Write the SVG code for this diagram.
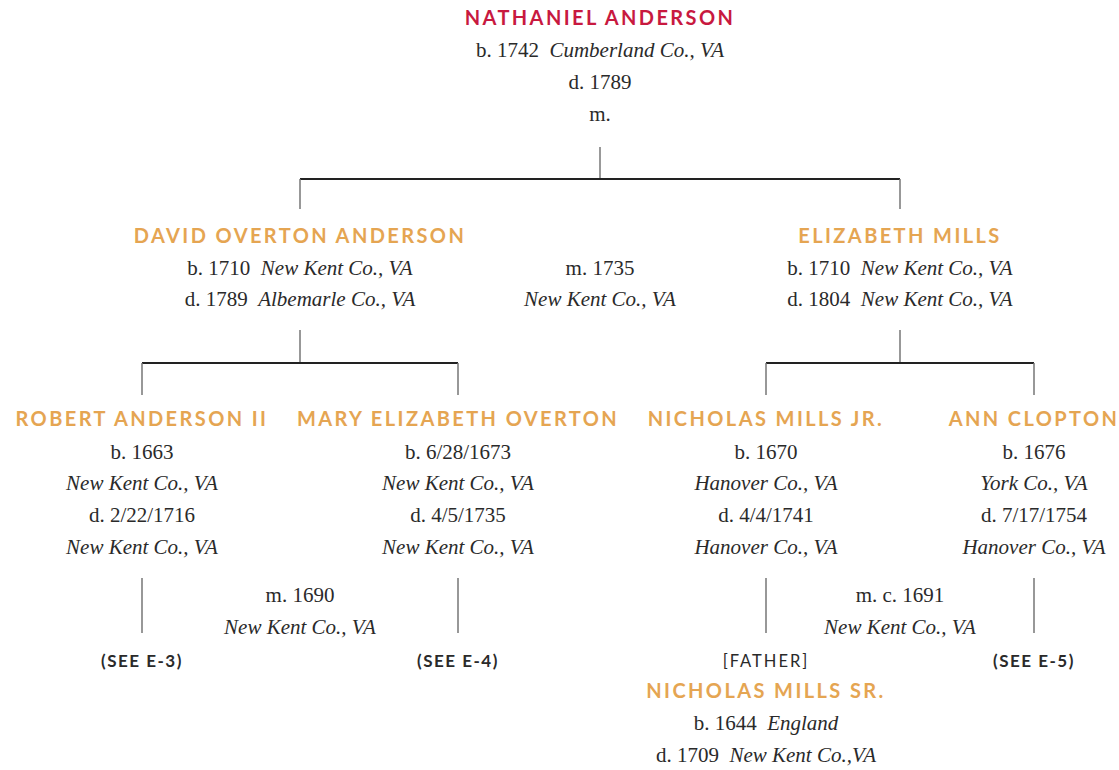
<svg xmlns="http://www.w3.org/2000/svg" width="1119" height="770" viewBox="0 0 1119 770" xml:space="preserve">
<style>
text{white-space:pre}
.nm{font-family:Lato,"Open Sans",sans-serif;font-weight:700;font-size:20px;letter-spacing:2.4px;text-anchor:middle;fill:#E5A552}
.red{fill:#C8193F}
.t{font-family:"Liberation Serif","DejaVu Serif",serif;font-size:21px;fill:#2a2a2a;text-anchor:middle}
.i{font-style:italic}
.see{font-family:Lato,"Open Sans",sans-serif;font-weight:700;font-size:17px;letter-spacing:1.5px;text-anchor:middle;fill:#2a2a2a}
.fa{font-family:Lato,"Open Sans",sans-serif;font-weight:400;font-size:16.5px;letter-spacing:2px;text-anchor:middle;fill:#2a2a2a}
.h{stroke:#222;stroke-width:2;fill:none}
.v{stroke:#777;stroke-width:1.5;fill:none}
</style>
<rect width="1119" height="770" fill="#fff"/>
<g id="connectors"><path class="v" d="M600 147V179"/><path class="h" d="M300 179H900"/><path class="v" d="M300 179V209M900 179V209"/><path class="v" d="M300 330V363M900 330V363"/><path class="h" d="M142 363H458M766 363H1034"/><path class="v" d="M142 363V395M458 363V395M766 363V395M1034 363V395"/><path class="v" d="M142 578V633M458 578V633M766 578V633M1034 578V633"/></g>
<g id="nathaniel"><text class="nm red" x="600" y="25">NATHANIEL ANDERSON</text><text class="t" x="600" y="57">b. 1742  <tspan class="i">Cumberland Co., VA</tspan></text><text class="t" x="600" y="89">d. 1789</text><text class="t" x="600" y="121">m.</text></g>
<g id="david"><text class="nm" x="300" y="243">DAVID OVERTON ANDERSON</text><text class="t" x="300" y="275">b. 1710  <tspan class="i">New Kent Co., VA</tspan></text><text class="t" x="300" y="306">d. 1789  <tspan class="i">Albemarle Co., VA</tspan></text></g>
<g id="m1735"><text class="t" x="600" y="275">m. 1735</text><text class="t i" x="600" y="306">New Kent Co., VA</text></g>
<g id="elizabeth"><text class="nm" x="900" y="243">ELIZABETH MILLS</text><text class="t" x="900" y="275">b. 1710  <tspan class="i">New Kent Co., VA</tspan></text><text class="t" x="900" y="306">d. 1804  <tspan class="i">New Kent Co., VA</tspan></text></g>
<g id="robert"><text class="nm" x="142" y="426">ROBERT ANDERSON II</text><text class="t" x="142" y="459">b. 1663</text><text class="t i" x="142" y="490">New Kent Co., VA</text><text class="t" x="142" y="522">d. 2/22/1716</text><text class="t i" x="142" y="554">New Kent Co., VA</text><text class="see" x="142" y="667">(SEE E-3)</text></g>
<g id="mary"><text class="nm" x="458" y="426">MARY ELIZABETH OVERTON</text><text class="t" x="458" y="459">b. 6/28/1673</text><text class="t i" x="458" y="490">New Kent Co., VA</text><text class="t" x="458" y="522">d. 4/5/1735</text><text class="t i" x="458" y="554">New Kent Co., VA</text><text class="see" x="458" y="667">(SEE E-4)</text></g>
<g id="m1690"><text class="t" x="300" y="602">m. 1690</text><text class="t i" x="300" y="634">New Kent Co., VA</text></g>
<g id="nicholasjr"><text class="nm" x="766" y="426">NICHOLAS MILLS JR.</text><text class="t" x="766" y="459">b. 1670</text><text class="t i" x="766" y="490">Hanover Co., VA</text><text class="t" x="766" y="522">d. 4/4/1741</text><text class="t i" x="766" y="554">Hanover Co., VA</text></g>
<g id="ann"><text class="nm" x="1034" y="426">ANN CLOPTON</text><text class="t" x="1034" y="459">b. 1676</text><text class="t i" x="1034" y="490">York Co., VA</text><text class="t" x="1034" y="522">d. 7/17/1754</text><text class="t i" x="1034" y="554">Hanover Co., VA</text><text class="see" x="1034" y="667">(SEE E-5)</text></g>
<g id="m1691"><text class="t" x="900" y="602">m. c. 1691</text><text class="t i" x="900" y="634">New Kent Co., VA</text></g>
<g id="nicholassr"><text class="fa" x="766" y="667">[FATHER]</text><text class="nm" x="766" y="698">NICHOLAS MILLS SR.</text><text class="t" x="766" y="730">b. 1644  <tspan class="i">England</tspan></text><text class="t" x="766" y="762">d. 1709  <tspan class="i">New Kent Co.,VA</tspan></text></g>
</svg>
